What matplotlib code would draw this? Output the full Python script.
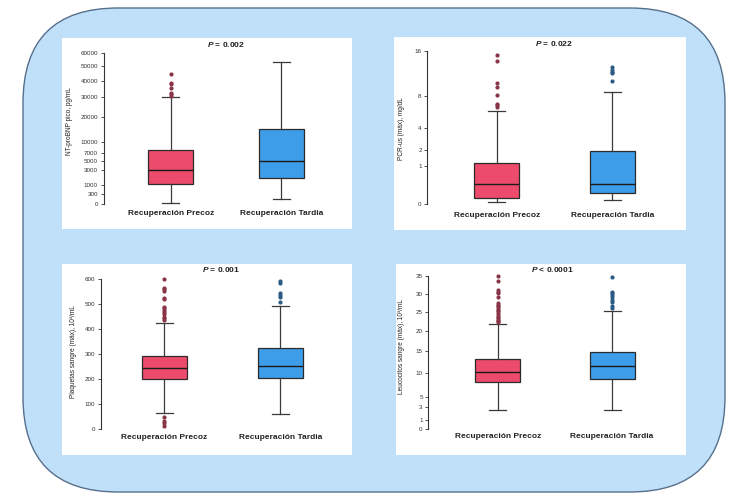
import numpy as np
import matplotlib
matplotlib.use("Agg")
import matplotlib.pyplot as plt
from matplotlib.patches import FancyBboxPatch, Rectangle

plt.rcParams['font.family'] = ['Liberation Sans', 'DejaVu Sans']
plt.rcParams['mathtext.fontset'] = 'custom'
plt.rcParams['mathtext.it'] = 'Liberation Sans:bold:italic'
plt.rcParams['mathtext.rm'] = 'Liberation Sans:bold'

# ---------------- data ----------------
groups = ["Recuperación Precoz", "Recuperación Tardia"]

# stats order: [whisker low, Q1, median, Q3, whisker high]
ntprobnp_precoz = [7, 1075, 3125, 7780, 29800]
ntprobnp_precoz_out = [30600, 31600, 32500, 35100, 37700, 38600, 44300]
ntprobnp_tardia = [75, 1760, 5000, 14700, 52700]
ntprobnp_tardia_out = []
ntprobnp_ticks = [0, 300, 1000, 3000, 5000, 7000, 10000, 20000, 30000, 40000, 50000, 60000]

pcr_precoz = [0.005, 0.03, 0.28, 1.16, 5.93]
pcr_precoz_out = [6.45, 6.68, 6.9, 8.1, 9.38, 10.08, 14.06, 15.2]
pcr_tardia = [0.013, 0.082, 0.28, 1.92, 8.6]
pcr_tardia_out = [10.3, 11.7, 11.98, 12.35, 12.8]
pcr_ticks = [0, 1, 2, 4, 8, 16]

plaq_precoz = [66, 200, 243, 291, 426]
plaq_precoz_out = [15, 24, 33, 50, 436, 443, 450, 460, 470, 476, 483, 490,
                   520, 525, 553, 559, 565, 599]
plaq_tardia = [61, 206, 253, 323, 494]
plaq_tardia_out = [507, 527, 535, 543, 583, 592]
plaq_ticks = [0, 100, 200, 300, 400, 500, 600]

leuco_precoz = [2.5, 7.9, 10.1, 13.2, 21.9]
leuco_precoz_out = [22.3, 22.6, 23.0, 23.4, 23.8, 24.3, 24.7, 25.2, 25.6, 26.1,
                    26.5, 27.0, 27.4, 29.0, 30.1, 30.6, 31.0, 33.7, 35.0]
leuco_tardia = [2.6, 8.6, 11.5, 14.8, 25.2]
leuco_tardia_out = [26.1, 26.5, 27.6, 28.3, 29.0, 29.6, 30.1, 30.6, 34.6]
leuco_ticks = [0, 1, 3, 5, 10, 15, 20, 25, 30, 35]

titles = ["0.002", "0.022", "0.001", "< 0.0001"]
ylabels = ["NT-proBNP pico, pg/mL", "PCR-us (máx), mg/dL",
           "Plaquetas sangre (máx), 10³/mL", "Leucocitos sangre (máx), 10³/mL"]

# ---------------- layout ----------------
W, H = 750, 500
fig = plt.figure(figsize=(7.5, 5), dpi=100)
bg = fig.add_axes([0, 0, 1, 1])
bg.set_xlim(0, W)
bg.set_ylim(H, 0)
bg.axis('off')
R = 95
bg.add_patch(FancyBboxPatch((23 + R, 8 + R), 702 - 2 * R, 484 - 2 * R,
                            boxstyle=f"round,pad={R},rounding_size={R}",
                            facecolor="#C0E0FA", edgecolor="#56708C", lw=1.0))
panels = [(62, 38, 352, 229), (394, 37, 686, 230), (62, 264, 352, 455), (396, 264, 686, 455)]
for (x0, y0, x1, y1) in panels:
    bg.add_patch(Rectangle((x0, y0), x1 - x0, y1 - y0, facecolor="white", edgecolor="none"))

RED = "#EC4B6B"
BLUE = "#3D9DE8"
RED_OUT = "#8A3547"
BLUE_OUT = "#2C5C86"

sqrt_fw = (lambda v: np.sqrt(np.clip(v, 0, None)), lambda v: np.asarray(v) ** 2)
p08_fw = (lambda v: np.power(np.clip(v, 0, None), 0.8), lambda v: np.power(np.clip(v, 0, None), 1.25))

geo = [
    dict(spine=103.5, c1=170.8, c2=281.3, right=345, y0=204.3, yt=52.7, tx=225.7, ty=44.3, lx=73, ly=121.5, xl=214.3),
    dict(spine=427.3, c1=496.8, c2=612.3, right=678, y0=204.3, yt=51.0, tx=554, ty=44.0, lx=405, ly=129, xl=215.7),
    dict(spine=100.7, c1=164.0, c2=280.3, right=345, y0=429.3, yt=279.0, tx=220.7, ty=269.3, lx=77, ly=352, xl=437.7),
    dict(spine=428.3, c1=497.8, c2=612.0, right=678, y0=428.7, yt=276.0, tx=552, ty=269.0, lx=405, ly=346, xl=436.7),
]

datasets = [
    (ntprobnp_precoz, ntprobnp_precoz_out, ntprobnp_tardia, ntprobnp_tardia_out, ntprobnp_ticks, sqrt_fw),
    (pcr_precoz, pcr_precoz_out, pcr_tardia, pcr_tardia_out, pcr_ticks, sqrt_fw),
    (plaq_precoz, plaq_precoz_out, plaq_tardia, plaq_tardia_out, plaq_ticks, None),
    (leuco_precoz, leuco_precoz_out, leuco_tardia, leuco_tardia_out, leuco_ticks, p08_fw),
]

def mk_stats(s, out):
    return dict(whislo=s[0], q1=s[1], med=s[2], q3=s[3], whishi=s[4], fliers=out)

for i, (g, d) in enumerate(zip(geo, datasets)):
    sp, c1, c2, right = g['spine'], g['c1'], g['c2'], g['right']
    s = c2 - c1
    ax = fig.add_axes([sp / W, 1 - g['y0'] / H, (right - sp) / W, (g['y0'] - g['yt']) / H])
    ax.set_facecolor('none')
    pre, pre_out, tar, tar_out, ticks, fw = d
    if fw is not None:
        ax.set_yscale('function', functions=fw)
    ax.set_ylim(ticks[0], ticks[-1])
    ax.set_xlim(1 - (c1 - sp) / s, 1 + (right - c1) / s)
    stats = [mk_stats(pre, pre_out), mk_stats(tar, tar_out)]
    bp = ax.bxp(stats, positions=[1, 2], widths=45 / s, patch_artist=True,
                showfliers=True,
                boxprops=dict(edgecolor="#2b2b2b", linewidth=0.9),
                medianprops=dict(color="#1a1a1a", linewidth=1.0),
                whiskerprops=dict(color="#3a3a3a", linewidth=0.9),
                capprops=dict(color="#3a3a3a", linewidth=0.9),
                capwidths=17 / s,
                flierprops=dict(marker='o', markersize=3.0, markeredgewidth=0))
    for patch, col in zip(bp['boxes'], [RED, BLUE]):
        patch.set_facecolor(col)
    for fl, col in zip(bp['fliers'], [RED_OUT, BLUE_OUT]):
        fl.set_markerfacecolor(col)
        fl.set_markeredgecolor(col)
        fl.set_clip_on(False)
    for art in bp['whiskers'] + bp['caps'] + bp['medians'] + bp['boxes']:
        art.set_clip_on(False)
    for k in ['top', 'right', 'bottom']:
        ax.spines[k].set_visible(False)
    ax.spines['left'].set_color("#333333")
    ax.spines['left'].set_linewidth(0.8)
    ax.set_yticks(ticks)
    ax.set_yticklabels([str(t) for t in ticks])
    ax.tick_params(axis='y', length=2.5, width=0.6, colors="#333333", labelsize=4.5, pad=1.5)
    ax.set_xticks([1, 2])
    ax.set_xticklabels(groups, fontweight='bold', fontsize=6, color="#222222")
    ax.tick_params(axis='x', length=0, pad=(g['xl'] - g['y0'] - 4) * 0.72)
    ax.set_ylabel(ylabels[i], fontsize=4.7, color="#222222")
    ax.yaxis.set_label_coords((g['lx'] - sp) / (right - sp), (g['y0'] - g['ly']) / (g['y0'] - g['yt']))
    t = titles[i]
    txt = r"$P$ " + (t if t.startswith("<") else "= " + t)
    bg.text(g['tx'], g['ty'], txt, ha='center', va='center', fontsize=6,
            fontweight='bold', color="#222222")

fig.savefig("out.png", dpi=100)
